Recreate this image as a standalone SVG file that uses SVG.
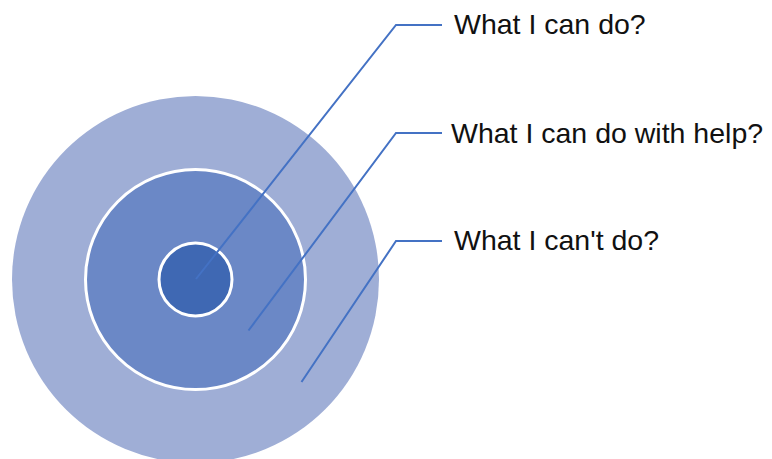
<svg xmlns="http://www.w3.org/2000/svg" width="772" height="459" viewBox="0 0 772 459">
<style>
.ring{stroke:#fff;stroke-width:3}
.conn{fill:none;stroke:#4472C4;stroke-width:2}
.lbl{font-family:"Liberation Sans",Arial,sans-serif;font-size:28.5px;fill:#111}
</style>
<rect width="772" height="459" fill="#fff"/>
<g id="outer"><circle cx="195.5" cy="279.5" r="183.5" fill="#9FAED6"/></g>
<g id="middle"><circle class="ring" cx="195.5" cy="279.5" r="110" fill="#6B88C6"/></g>
<g id="inner"><circle class="ring" cx="195.5" cy="279.5" r="36.5" fill="#3F68B3"/></g>
<g id="connectors">
<polyline class="conn" points="196,279 396,25 442,25"/>
<polyline class="conn" points="248.5,330.5 396,133 442,133"/>
<polyline class="conn" points="301.5,382 396,241 442,241"/>
</g>
<g id="label1"><text class="lbl" x="454" y="33.5">What I can do?</text></g>
<g id="label2"><text class="lbl" x="451" y="143">What I can do with help?</text></g>
<g id="label3"><text class="lbl" x="454" y="250">What I can't do?</text></g>
</svg>
